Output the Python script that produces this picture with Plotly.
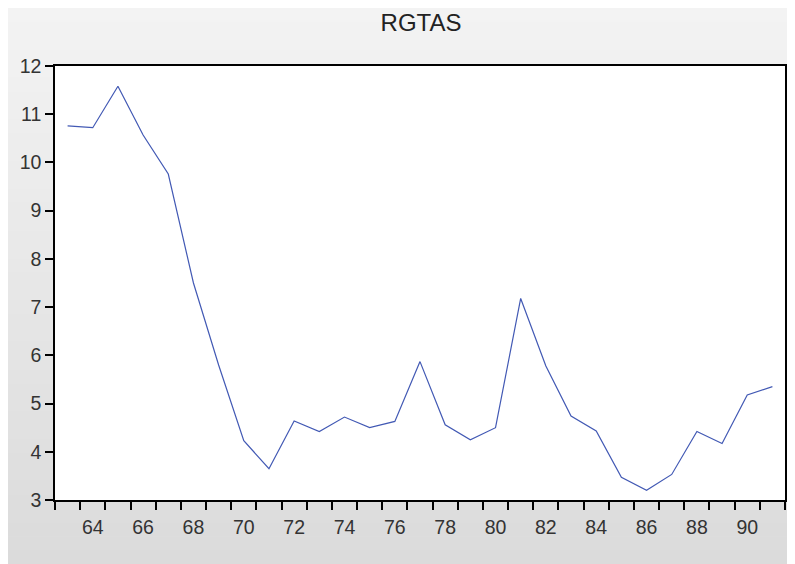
import plotly.graph_objects as go

years = list(range(1963, 1992))
rgtas = [10.76, 10.72, 11.58, 10.57, 9.76, 7.5, 5.8, 4.23, 3.65, 4.64, 4.42,
         4.72, 4.5, 4.63, 5.87, 4.56, 4.25, 4.5, 7.18, 5.78, 4.74, 4.43,
         3.47, 3.2, 3.53, 4.42, 4.17, 5.18, 5.35]
label_years = list(range(1964, 1991, 2))
label_text = [str(y % 100) for y in label_years]
y_ticks = list(range(3, 13))

# page body adds an 8px offset; figure sized to fill remaining window
W, H = 787, 556
OFF = 8
L, R, T, B = 55 - OFF, 787 - OFF, 66 - OFF, 500 - OFF

def px_x(px):
    return (px - L) / (R - L)

def px_y(py):
    return (B - py) / (B - T)

shapes = []
n = 40
for i in range(n):
    y0 = H * i / n
    y1 = H * (i + 1) / n + 0.5
    g = round(243 - (243 - 219) * i / (n - 1))
    shapes.append(dict(type="rect", xref="paper", yref="paper",
                       x0=px_x(-2), x1=px_x(W + 2), y0=px_y(y1), y1=px_y(y0 - (2 if i == 0 else 0)),
                       fillcolor=f"rgb({g},{g},{g})", line=dict(width=0),
                       layer="below"))
shapes.append(dict(type="rect", xref="paper", yref="paper", x0=0, x1=1, y0=0, y1=1,
                   fillcolor="white", line=dict(width=0), layer="below"))

fig = go.Figure()
fig.add_trace(go.Scatter(x=years, y=rgtas, mode="lines",
                         line=dict(color="#4259b4", width=1.2),
                         hoverinfo="x+y"))

font = "Liberation Sans, Arial, sans-serif"
fig.update_layout(
    width=W, height=H,
    margin=dict(l=L, r=W - R, t=T, b=H - B),
    paper_bgcolor="rgb(236,236,236)", plot_bgcolor="white",
    shapes=shapes,
    showlegend=False,
    title=dict(text="RGTAS", x=(421 - OFF) / W, xanchor="center", xref="container",
               y=1 - (22.5 - OFF) / H, yanchor="middle", yref="container",
               font=dict(family=font, size=24, color="#222")),
    xaxis=dict(range=[1962.5, 1991.5], tickmode="array", tickvals=label_years,
               ticktext=label_text, ticks="outside", ticklen=9,
               tickcolor="rgba(0,0,0,0)", showgrid=False, zeroline=False,
               showline=True, linecolor="black", linewidth=1.5, mirror=True,
               tickfont=dict(family=font, size=19.5, color="#333"),
               minor=dict(ticks="outside", ticklen=8, tickcolor="black",
                          tickwidth=1.5, tickmode="linear", tick0=1962.5, dtick=1,
                          showgrid=False)),
    yaxis=dict(range=[3, 12], tickmode="array", tickvals=y_ticks,
               ticks="outside", ticklen=8, tickcolor="black", tickwidth=1.5,
               showgrid=False, zeroline=False, showline=True, linecolor="black",
               linewidth=1.5, mirror=True,
               tickfont=dict(family=font, size=19.5, color="#333")),
)

fig.write_html("out.html")
